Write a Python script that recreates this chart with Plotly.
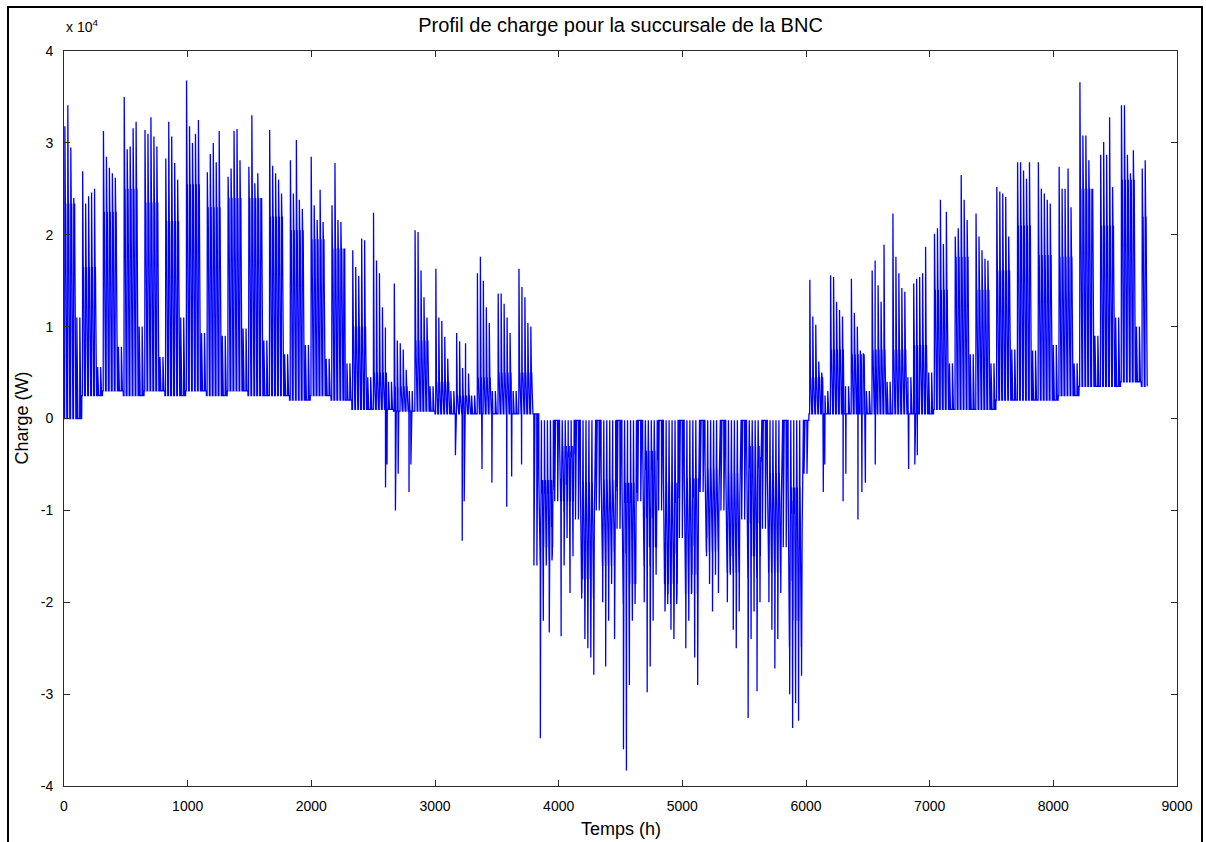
import plotly.graph_objects as go

# Charge horaire de la succursale, en unités de 10^4 W.
# Une "semaine" k regroupe les 5 jours ouvrables (du lundi au vendredi)
# suivis des 2 jours de fin de semaine ; l'année commence un mardi.

# Pointe quotidienne des jours ouvrables de chaque semaine
pics_semaine = [
    [3.18, 3.41, 2.95, 2.40],
    [2.69, 2.34, 2.42, 2.46, 2.50],
    [3.13, 2.85, 2.73, 2.67, 2.62],
    [3.50, 2.93, 2.96, 3.16, 3.23],
    [3.14, 3.10, 3.28, 3.07, 2.96],
    [2.83, 3.23, 3.07, 2.78, 2.60],
    [3.68, 3.18, 3.00, 3.10, 3.25],
    [2.68, 2.88, 3.00, 2.79, 3.13],
    [2.63, 2.72, 3.13, 3.15, 2.81],
    [2.74, 3.30, 2.56, 2.67, 2.29],
    [3.14, 2.75, 2.67, 2.60, 2.45],
    [2.81, 2.45, 3.03, 2.38, 2.28],
    [2.85, 2.32, 2.16, 2.49, 2.14],
    [2.32, 2.78, 2.16, 2.14, 1.76],
    [1.83, 1.65, 1.55, 1.96, 1.94],
    [2.24, 1.72, 1.58, 1.21, 0.99],
    [1.47, 0.85, 0.82, 0.75, 0.53],
    [2.05, 2.03, 1.61, 1.32, 1.10],
    [1.63, 1.10, 1.06, 0.89, 0.65],
    [0.93, 0.84, 0.55, 0.82, 0.49],
    [1.58, 1.76, 1.50, 1.21, 1.04],
    [1.36, 1.36, 1.25, 1.10, 0.93],
    [1.63, 1.43, 1.32, 1.04, 1.00],
    [-3.48, -2.20, -1.60, -2.33, -1.50],
    [-2.37, -1.60, -1.30, -1.90, -1.50],
    [-1.90, -2.40, -2.50, -2.60, -2.79],
    [-2.00, -2.70, -2.20, -1.80, -2.40],
    [-3.60, -3.83, -2.90, -2.20, -1.90],
    [-2.00, -2.98, -2.70, -2.20, -1.70],
    [-2.10, -1.90, -2.30, -2.40, -2.00],
    [-2.50, -2.20, -1.90, -2.60, -2.90],
    [-1.50, -1.80, -2.10, -1.70, -1.90],
    [-2.00, -1.70, -2.30, -2.50, -2.10],
    [-3.26, -2.40, -2.10, -2.97, -2.00],
    [-2.00, -2.30, -2.72, -2.40, -1.90],
    [-3.00, -3.37, -3.10, -3.29, -2.80],
    [1.51, 1.11, 1.02, 0.62, 0.50],
    [1.56, 1.54, 1.27, 1.18, 1.11],
    [1.52, 1.15, 1.00, 0.74, 0.71],
    [1.61, 1.72, 1.45, 1.27, 1.89],
    [2.23, 1.76, 1.58, 1.42, 1.38],
    [1.47, 1.52, 1.54, 1.58, 1.87],
    [2.01, 2.07, 2.38, 1.90, 2.25],
    [1.98, 2.07, 2.65, 2.38, 2.16],
    [2.23, 1.98, 1.83, 1.74, 1.72],
    [2.52, 2.47, 2.45, 2.41, 1.98],
    [2.79, 2.79, 2.70, 2.61, 2.79],
    [2.79, 2.50, 2.45, 2.38, 2.34],
    [2.74, 2.50, 2.50, 2.72, 2.30],
    [3.66, 3.08, 3.08, 2.81, 2.16],
    [2.87, 3.01, 2.87, 3.28, 2.52],
    [3.41, 3.41, 2.87, 2.67, 2.92],
    [2.72, 2.81],
]

# Palier de jour des jours ouvrables (négatif l'été : surplus de production)
paliers = [
    2.34, 1.65, 2.25, 2.50, 2.35, 2.15, 2.55, 2.30, 2.40, 2.40, 2.20, 2.05, 1.95, 1.85,
    1.00, 0.50, 0.35, 0.85, 0.40, 0.25, 0.45, 0.50, 0.50,
    -1.40, -0.90, -1.75, -1.45, -1.80, -1.40, -1.80, -1.70, -1.30, -1.50, -1.50, -1.50, -2.20,
    0.45, 0.75, 0.70, 0.75, 0.75, 0.80, 1.40, 1.76, 1.40,
    1.61, 2.10, 1.78, 1.76, 2.50, 2.10, 2.60, 2.20,
]

# Niveau de nuit des jours ouvrables
nuits = [
    0.00, 0.25, 0.30, 0.25, 0.30, 0.25, 0.30, 0.25, 0.30, 0.25, 0.25, 0.20, 0.25, 0.20,
    0.10, 0.10, 0.08, 0.08, 0.05, 0.05, 0.05, 0.05, 0.05,
    -0.67, -0.30, -0.70, -0.67, -0.70, -0.35, -0.70, -0.65, -0.55, -0.60, -0.30, -0.60, -0.75,
    0.05, 0.05, 0.05, 0.05, 0.05, 0.05, 0.10, 0.10, 0.10,
    0.20, 0.20, 0.20, 0.25, 0.35, 0.35, 0.40, 0.35,
]

# Niveau atteint pendant la fin de semaine qui suit chaque semaine
fins_semaine = [
    1.10, 0.56, 0.78, 1.00, 0.67, 1.10, 0.93, 0.90, 0.98, 0.85, 0.70, 0.80, 0.65, 0.60,
    0.45, 0.40, 0.30, 0.35, 0.30, 0.25, 0.30, 0.30, -1.60,
    -0.90, -1.10, -1.00, -1.20, -0.90, -1.00, -1.30, -0.80, -1.00, -1.10, -1.20, -1.40, -0.60,
    0.30, 0.35, 0.30, 0.40, 0.45, 0.50, 0.60, 0.70, 0.60,
    0.75, 0.74, 0.80, 0.60, 0.90, 1.10, 1.00, 0.90,
]

# Niveau de repos estival (fins de semaine et retours nocturnes d'été)
repos_ete = -0.02

# Creux ponctuels de mi-saison (heure, valeur)
creux = [
    (2600, -0.75), (2612, -0.50), (2680, -1.00), (2702, -0.60), (2790, -0.80),
    (2805, -0.50), (3165, -0.40), (3220, -1.33), (3236, -0.90), (3380, -0.55),
    (3460, -0.70), (3580, -0.96), (3620, -0.63), (3700, -0.50),
    (6140, -0.80), (6152, -0.50), (6300, -0.90), (6322, -0.60), (6420, -1.10),
    (6452, -0.80), (6480, -0.70), (6560, -0.50), (6830, -0.55), (6880, -0.50),
    (6900, -0.40),
]

# Formes horaires types (None = heure de la pointe, "R" = retour au repos)
forme_bureau = [0, 0, 0, 0, 0, 0, 0.6, None, 1.0, 0.9, 0.95, 0.85,
                0.9, 0.95, 1.0, 0.9, 0.75, 0.35, 0, 0, 0, 0, 0, 0]
forme_ete = [0, 0.2, 0, 0.1, 0, 0, 0.3, 0.7, 1.0, 0.6, 1.2, 0.9,
             None, 1.1, 0.7, 1.0, 0.5, 0.3, 0.1, 0, 0.15, "R", 0.1, 0]
forme_repos = [0, 0, 0, 0, 0, 0, 0, 0, 1.0, 0.5, 0.8, 0.3,
               0, 0, 0, 0, 0, 0, 0, 0, 0, 0, 0, 0]

# Reconstruction de la série horaire (8760 h)
charge = []
for jour in range(365):
    k, j = divmod(jour + 1, 7)
    nuit = nuits[k]
    if j < 5:
        pic = pics_semaine[k][j - 1 if k == 0 else j]
        niveau = paliers[k]
        forme = forme_ete if niveau < 0 else forme_bureau
    else:
        niveau = fins_semaine[k]
        pic = niveau
        forme = forme_repos
        if nuit < 0:
            nuit = repos_ete
    for f in forme:
        if f is None:
            charge.append(pic)
        elif f == "R":
            charge.append(repos_ete)
        else:
            charge.append(nuit + (niveau - nuit) * f)

for heure, valeur in creux:
    charge[heure] = valeur
    charge[heure + 1] = 0.5 * (valeur + charge[heure + 1])

heures = list(range(len(charge)))
charge_w = [v * 1e4 for v in charge]

fig = go.Figure()
fig.add_trace(go.Scatter(
    x=heures, y=charge_w, mode="lines",
    line=dict(color="#0000ff", width=1.3),
    hoverinfo="skip", showlegend=False,
))

police = "Liberation Sans, Arial, Helvetica, sans-serif"
axe = dict(
    showline=True, linecolor="#2b2b2b", linewidth=1, mirror="ticks",
    ticks="inside", ticklen=6, tickcolor="#2b2b2b", showgrid=False,
    zeroline=False, tickfont=dict(family=police, size=14, color="black"),
)

fig.update_layout(
    width=1206, height=842,
    margin=dict(l=64, r=29, t=51, b=56),
    paper_bgcolor="white", plot_bgcolor="white",
    title=dict(text="Profil de charge pour la succursale de la BNC",
               x=(64 + 1177) / 2 / 1206, xanchor="center",
               y=1 - 25 / 842, yanchor="middle", yref="container",
               font=dict(family=police, size=20, color="black")),
    xaxis=dict(range=[0, 9000], tickvals=list(range(0, 9001, 1000)),
               ticklabelstandoff=7, **axe),
    yaxis=dict(range=[-40000, 40000], tickvals=[i * 1e4 for i in range(-4, 5)],
               ticktext=[str(i) for i in range(-4, 5)],
               ticklabelstandoff=7, **axe),
    annotations=[
        dict(text="Temps (h)", x=0.5, y=0, xref="paper", yref="paper",
             yshift=-43, showarrow=False, xanchor="center", yanchor="middle",
             font=dict(family=police, size=18, color="black")),
        dict(text="Charge (W)", x=0, y=0.5, xref="paper", yref="paper",
             xshift=-43, showarrow=False, textangle=-90, xanchor="center",
             yanchor="middle", font=dict(family=police, size=18, color="black")),
        dict(text="x 10<sup>4</sup>", x=0, y=1, xref="paper", yref="paper",
             yshift=14, showarrow=False, xanchor="left", yanchor="bottom",
             font=dict(family=police, size=14, color="black")),
    ],
    shapes=[dict(type="rect", xref="paper", yref="paper",
                 x0=(8 - 64) / 1113, x1=(1202 - 64) / 1113,
                 y0=(786 - 846) / 735, y1=(786 - 7) / 735,
                 line=dict(color="black", width=2), fillcolor="rgba(0,0,0,0)")],
)

fig.write_html("out.html")
